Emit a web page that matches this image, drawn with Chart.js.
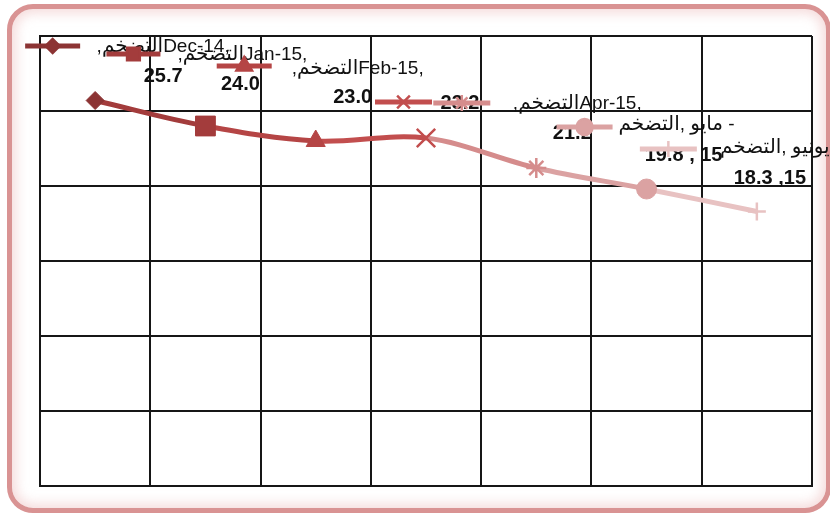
<!DOCTYPE html>
<html><head><meta charset="utf-8">
<script src="https://cdn.jsdelivr.net/npm/chart.js@4/dist/chart.umd.min.js"></script>
<style>
html,body{margin:0;padding:0;background:#fff;overflow:hidden;}
#wrap{position:relative;width:830px;height:514px;overflow:hidden;}
#frame{position:absolute;left:7px;top:4px;width:824px;height:509px;box-sizing:border-box;border:5px solid #d99393;border-radius:26px;box-shadow:inset 0 0 12px 4px rgba(236,190,190,0.55);}
canvas{position:absolute;left:0;top:0;}
</style></head><body>
<div id="wrap"><div id="frame"></div><canvas id="c" width="830" height="514"></canvas></div>
<script>
// ---- data ----
const categories = ['Dec-14', 'Jan-15', 'Feb-15', 'Mar-15', 'Apr-15', 'May-15', 'Jun-15'];
const inflation = [25.7, 24.0, 23.0, 23.2, 21.2, 19.8, 18.3];
const seriesName = 'التضخم';
const yTicks = [0, 5, 10, 15, 20, 25, 30];
// label first lines as pieces in visual left-to-right order (null = not visible)
const labelLine1 = [
  [',', seriesName, 'Dec-14,'],
  [',', seriesName, 'Jan-15,'],
  [',', seriesName, 'Feb-15,'],
  null,
  [',', seriesName, 'Apr-15,'],
  [seriesName, ', ', 'مايو', ' -'],
  [seriesName, ', ', 'يونيو']
];
const labelSuffix = ['', '', '', '', '', ' , 15', ' ,15'];

// ---- styles ----
const colors = ['#8c3434', '#a33c3c', '#b54545', '#c24e4e', '#d58c8c', '#dba2a2', '#e8c2c2'];
const styles = ['rectRot', 'rect', 'triangle', 'crossRot', 'star', 'circle', 'cross'];
const radii = [9, 14, 11, 13, 10, 10, 9];
const keyRadii = [7, 9, 9, 9, 8, 8, 8];
// label layout offsets relative to each point: [keyX1,keyX2,keyY, line1cx,line1y, line2cx,line2y]
const labelLayout = [
  [-70, -15, -54.5, 68, -53.5, 68, -24.5],
  [-99, -45, -72, 37, -71, 35, -42],
  [-99, -44, -75, 42, -72, 37, -44],
  [-51, 6, -36, 0, 0, 34, -35],
  [-103, -46, -65, 41, -64, 36, -35],
  [-90, -34, -62, 30, -64, 37, -34],
  [-117, -60, -62.5, 18, -63.5, 13, -33.5]
];
const latinFont = "19px 'Liberation Sans', sans-serif";
const arabicFont = "20px 'DejaVu Sans', sans-serif";
const isArabic = s => /[\u0600-\u06FF]/.test(s);

const labelPlugin = {
  id: 'pointLabels',
  afterDatasetsDraw(chart) {
    const ctx = chart.ctx;
    const meta = chart.getDatasetMeta(0);
    meta.data.forEach((pt, i) => {
      const L = labelLayout[i];
      ctx.save();
      ctx.strokeStyle = colors[i];
      ctx.fillStyle = colors[i];
      ctx.lineWidth = 5;
      ctx.beginPath();
      ctx.moveTo(pt.x + L[0], pt.y + L[2]);
      ctx.lineTo(pt.x + L[1], pt.y + L[2]);
      ctx.stroke();
      ctx.lineWidth = 2.5;
      Chart.helpers.drawPoint(ctx, {pointStyle: styles[i], radius: keyRadii[i], borderWidth: 2.5, rotation: 0},
        pt.x + (L[0] + L[1]) / 2, pt.y + L[2]);
      ctx.fillStyle = '#111';
      ctx.textBaseline = 'middle';
      const pieces = labelLine1[i];
      if (pieces) {
        const widths = pieces.map(p => { ctx.font = isArabic(p) ? arabicFont : latinFont; return ctx.measureText(p).width; });
        let x = pt.x + L[3] - widths.reduce((a, b) => a + b, 0) / 2;
        ctx.textAlign = 'left';
        pieces.forEach((p, k) => {
          ctx.font = isArabic(p) ? arabicFont : latinFont;
          ctx.direction = isArabic(p) ? 'rtl' : 'ltr';
          ctx.textAlign = 'left';
          if (isArabic(p)) { ctx.textAlign = 'right'; ctx.fillText(p, x + widths[k], pt.y + L[4]); }
          else ctx.fillText(p, x, pt.y + L[4]);
          x += widths[k];
        });
      }
      ctx.direction = 'ltr';
      ctx.textAlign = 'center';
      ctx.font = "bold 20px 'Liberation Sans', sans-serif";
      ctx.fillText(inflation[i].toFixed(1) + labelSuffix[i], pt.x + L[5], pt.y + L[6]);
      ctx.restore();
    });
  }
};

new Chart(document.getElementById('c'), {
  type: 'line',
  data: {
    labels: categories,
    datasets: [{
      label: seriesName,
      data: inflation,
      borderWidth: 5,
      tension: 0.35,
      borderColor: colors[0],
      segment: { borderColor: c => colors[c.p1DataIndex] },
      pointStyle: styles,
      pointRadius: radii,
      pointBackgroundColor: colors,
      pointBorderColor: colors,
      pointBorderWidth: [1, 1, 1, 2.5, 2.5, 1, 2.5]
    }]
  },
  options: {
    responsive: false,
    animation: false,
    layout: { padding: { left: 40, top: 36, right: 18, bottom: 28 } },
    plugins: { legend: { display: false }, tooltip: { enabled: false } },
    scales: {
      x: {
        offset: true,
        grid: { offset: true, color: '#161616', lineWidth: 2, drawTicks: false },
        border: { display: true, color: '#161616', width: 2 },
        ticks: { display: false }
      },
      y: {
        min: yTicks[0], max: yTicks[yTicks.length - 1],
        afterBuildTicks: s => { s.ticks = yTicks.map(v => ({ value: v })); },
        grid: { color: '#161616', lineWidth: 2, drawTicks: false },
        border: { display: true, color: '#161616', width: 2 },
        ticks: { display: false }
      }
    }
  },
  plugins: [labelPlugin]
});
</script>
</body></html>
